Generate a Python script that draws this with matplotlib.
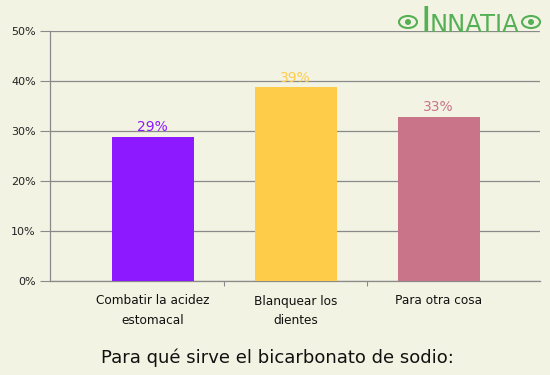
import matplotlib
matplotlib.use("Agg")
import matplotlib.pyplot as plt
from matplotlib.patches import Ellipse

categories = ["Combatir la acidez\nestomacal", "Blanquear los\ndientes", "Para otra cosa"]
values = [28.9, 38.8, 32.9]
value_labels = ["29%", "39%", "33%"]
colors = ["#8C19FF", "#FFCC4A", "#C97489"]
yticks = [0, 10, 20, 30, 40, 50]
ytick_labels = ["0%", "10%", "20%", "30%", "40%", "50%"]
title = "Para qué sirve el bicarbonato de sodio:"

bg = "#F3F3E3"
W, H = 550, 375
fig = plt.figure(figsize=(W/100, H/100), dpi=100, facecolor=bg)
ax = fig.add_axes([50/W, (H-281)/H, 490/W, 250/H], facecolor=bg)

x = list(range(len(categories)))
ax.bar(x, values, width=0.573, color=colors, zorder=3)
for xi, v, lab, c in zip(x, values, value_labels, colors):
    ax.annotate(lab, (xi, v), xytext=(0, 1.5), textcoords="offset points",
                ha="center", va="bottom", color=c, fontsize=10, zorder=4)

ax.set_xlim(-0.72, 2.71)
ax.set_ylim(0, 50)
ax.set_yticks(yticks)
ax.set_yticklabels(ytick_labels, fontsize=8, color="#222222")
ax.yaxis.grid(True, color="#8a8a8a", linewidth=0.9, zorder=1)
ax.tick_params(axis="y", length=7.2, color="#8a8a8a", pad=3)
ax.set_xticks([0.5, 1.5])
ax.set_xticklabels([])
ax.tick_params(axis="x", length=3.6, color="#8a8a8a")
for xi, cat in zip(x, categories):
    for i, line in enumerate(cat.split("\n")):
        ax.annotate(line, (xi, 0), xycoords=("data", "axes fraction"),
                    xytext=(0, -20 * 0.72 - i * 20 * 0.72), textcoords="offset points",
                    ha="center", va="center", fontsize=8.7, color="#111111")

for s in ["top", "right"]:
    ax.spines[s].set_visible(False)
for s in ["left", "bottom"]:
    ax.spines[s].set_color("#8a8a8a")
    ax.spines[s].set_linewidth(0.9)
ax.spines["left"].set_bounds(0, 50)

fig.text(277/W, 1 - 358/H, title, ha="center", va="center", fontsize=13, color="#111111")

# logo
green = "#55B055"
fig.text(420/W, 1 - 32/H, "I", ha="left", va="baseline", fontsize=26, color=green)
fig.text(430/W, 1 - 32/H, "NNATIA", ha="left", va="baseline", fontsize=17.5, color=green)
for cx in (408, 531):
    fig.patches.append(Ellipse((cx/W, 1 - 22/H), 18/W, 12/H, transform=fig.transFigure,
                               facecolor="none", edgecolor=green, linewidth=1.5))
    fig.patches.append(Ellipse((cx/W, 1 - 22/H), 6/W, 6/H, transform=fig.transFigure,
                               facecolor=green, edgecolor="none"))

fig.savefig("out.png", dpi=100, facecolor=bg)
